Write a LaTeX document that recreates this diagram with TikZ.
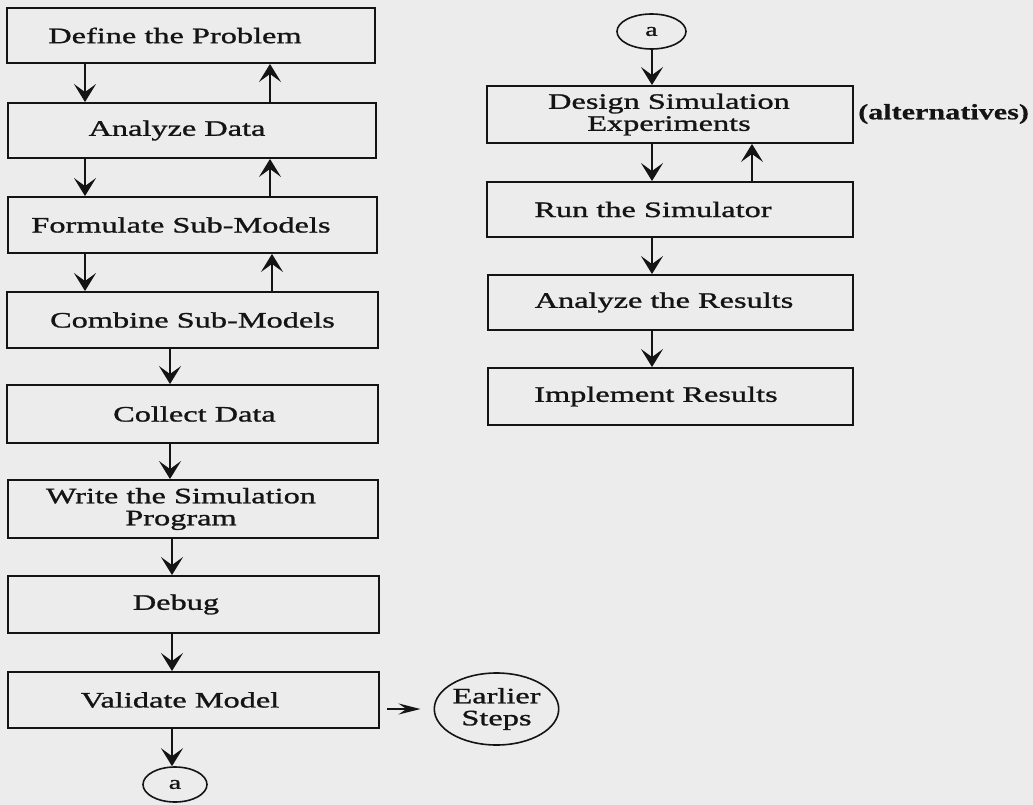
\documentclass[tikz,border=0pt]{standalone}
\usepackage{fontspec}
\setmainfont[FakeStretch=1.47,FakeBold=1.2]{Liberation Serif}
\newfontfamily\altfont[FakeStretch=1.37,FakeBold=0.6]{Liberation Serif}
\usetikzlibrary{arrows.meta,shapes.geometric}
\definecolor{paper}{RGB}{236,236,236}
\definecolor{ink}{RGB}{20,20,20}
\tikzset{
  box/.style 2 args={draw=ink, line width=1.9pt, rectangle, minimum width=#1pt, minimum height=#2pt, inner sep=0pt},
  txt/.style={font=\fontsize{22}{22}\selectfont, text=ink, align=center, inner sep=0pt},
  oval/.style 2 args={draw=ink, line width=1.6pt, ellipse, minimum width=#1pt, minimum height=#2pt, inner sep=0pt},
  arr/.style={draw=ink, line width=1.9pt, -{Stealth[length=18pt,width=22pt,inset=8pt]}},
  sidearr/.style={draw=ink, line width=1.6pt, -{Stealth[length=22pt,width=11pt,inset=8pt]}},
}
\begin{document}
\begin{tikzpicture}[x=1pt,y=-1pt]
\fill[paper] (0,0) rectangle (1033,805);
\useasboundingbox (0,0) rectangle (1033,805);

% left column
\node[box={368}{55}, label={[txt,xshift=-16pt]center:Define the Problem}] (l1) at (191,35.5) {};
\node[box={368}{55}, label={[txt,xshift=-15pt]center:Analyze Data}] (l2) at (192,130.5) {};
\node[box={369}{56}, label={[txt,xshift=-11.5pt]center:Formulate Sub-Models}] (l3) at (192.5,225) {};
\node[box={371}{56}, label={[txt,xshift=0pt]center:Combine Sub-Models}] (l4) at (192.5,320) {};
\node[box={371}{58}, label={[txt,xshift=2pt]center:Collect Data}] (l5) at (192.5,414) {};
\node[box={370}{58}, label={[txt,xshift=-12pt]center:Write the Simulation\\Program}] (l6) at (193,509) {};
\node[box={371}{57}, label={[txt,xshift=-17.5pt]center:Debug}] (l7) at (193.5,604.5) {};
\node[box={371}{56}, label={[txt,xshift=-13.5pt]center:Validate Model}] (l8) at (193.5,700) {};
\node[oval={113}{72}, txt] (ea) at (496.5,709) {Earlier\\Steps};
\node[oval={64}{35}, txt, font=\fontsize{19}{19}\selectfont] (ab) at (175,784.5) {a};

% right column
\node[oval={69}{35}, txt, font=\fontsize{19}{19}\selectfont] (at) at (651.5,31.5) {a};
\node[box={366}{57}, label={[txt,xshift=-1pt]center:Design Simulation\\Experiments}] (r1) at (670,114.5) {};
\node[box={366}{55}, label={[txt,xshift=-17pt]center:Run the Simulator}] (r2) at (670,209.5) {};
\node[box={365}{55}, label={[txt,xshift=-6.5pt]center:Analyze the Results}] (r3) at (670.5,302.5) {};
\node[box={365}{57}, label={[txt,xshift=-14.5pt]center:Implement Results}] (r4) at (670.5,396.5) {};
\node[txt, anchor=west, font=\altfont\bfseries\fontsize{22}{22}\selectfont] (alt) at (858,114) {(alternatives)};

% column coordinates
\coordinate (xa) at (85,0);
\coordinate (xb) at (270,0);
\coordinate (xc) at (272,0);
\coordinate (xd) at (170,0);
\coordinate (xf) at (172,0);
\coordinate (xg) at (652,0);
\coordinate (xh) at (752,0);

% left arrows
\draw[arr] (l1.south -| xa) -- (l2.north -| xa);
\draw[arr] (l2.north -| xb) -- (l1.south -| xb);
\draw[arr] (l2.south -| xa) -- (l3.north -| xa);
\draw[arr] (l3.north -| xb) -- (l2.south -| xb);
\draw[arr] (l3.south -| xa) -- (l4.north -| xa);
\draw[arr] (l4.north -| xc) -- (l3.south -| xc);
\draw[arr] (l4.south -| xd) -- (l5.north -| xd);
\draw[arr] (l5.south -| xd) -- (l6.north -| xd);
\draw[arr] (l6.south -| xf) -- (l7.north -| xf);
\draw[arr] (l7.south -| xf) -- (l8.north -| xf);
\draw[arr] (l8.south -| xf) -- (ab.north -| xf);
\draw[sidearr, shorten <=7pt, shorten >=13pt] (l8.east |- ea.west) -- (ea.west);

% right arrows
\draw[arr] (at.south -| xg) -- (r1.north -| xg);
\draw[arr] (r1.south -| xg) -- (r2.north -| xg);
\draw[arr] (r2.north -| xh) -- (r1.south -| xh);
\draw[arr] (r2.south -| xg) -- (r3.north -| xg);
\draw[arr] (r3.south -| xg) -- (r4.north -| xg);
\end{tikzpicture}
\end{document}
